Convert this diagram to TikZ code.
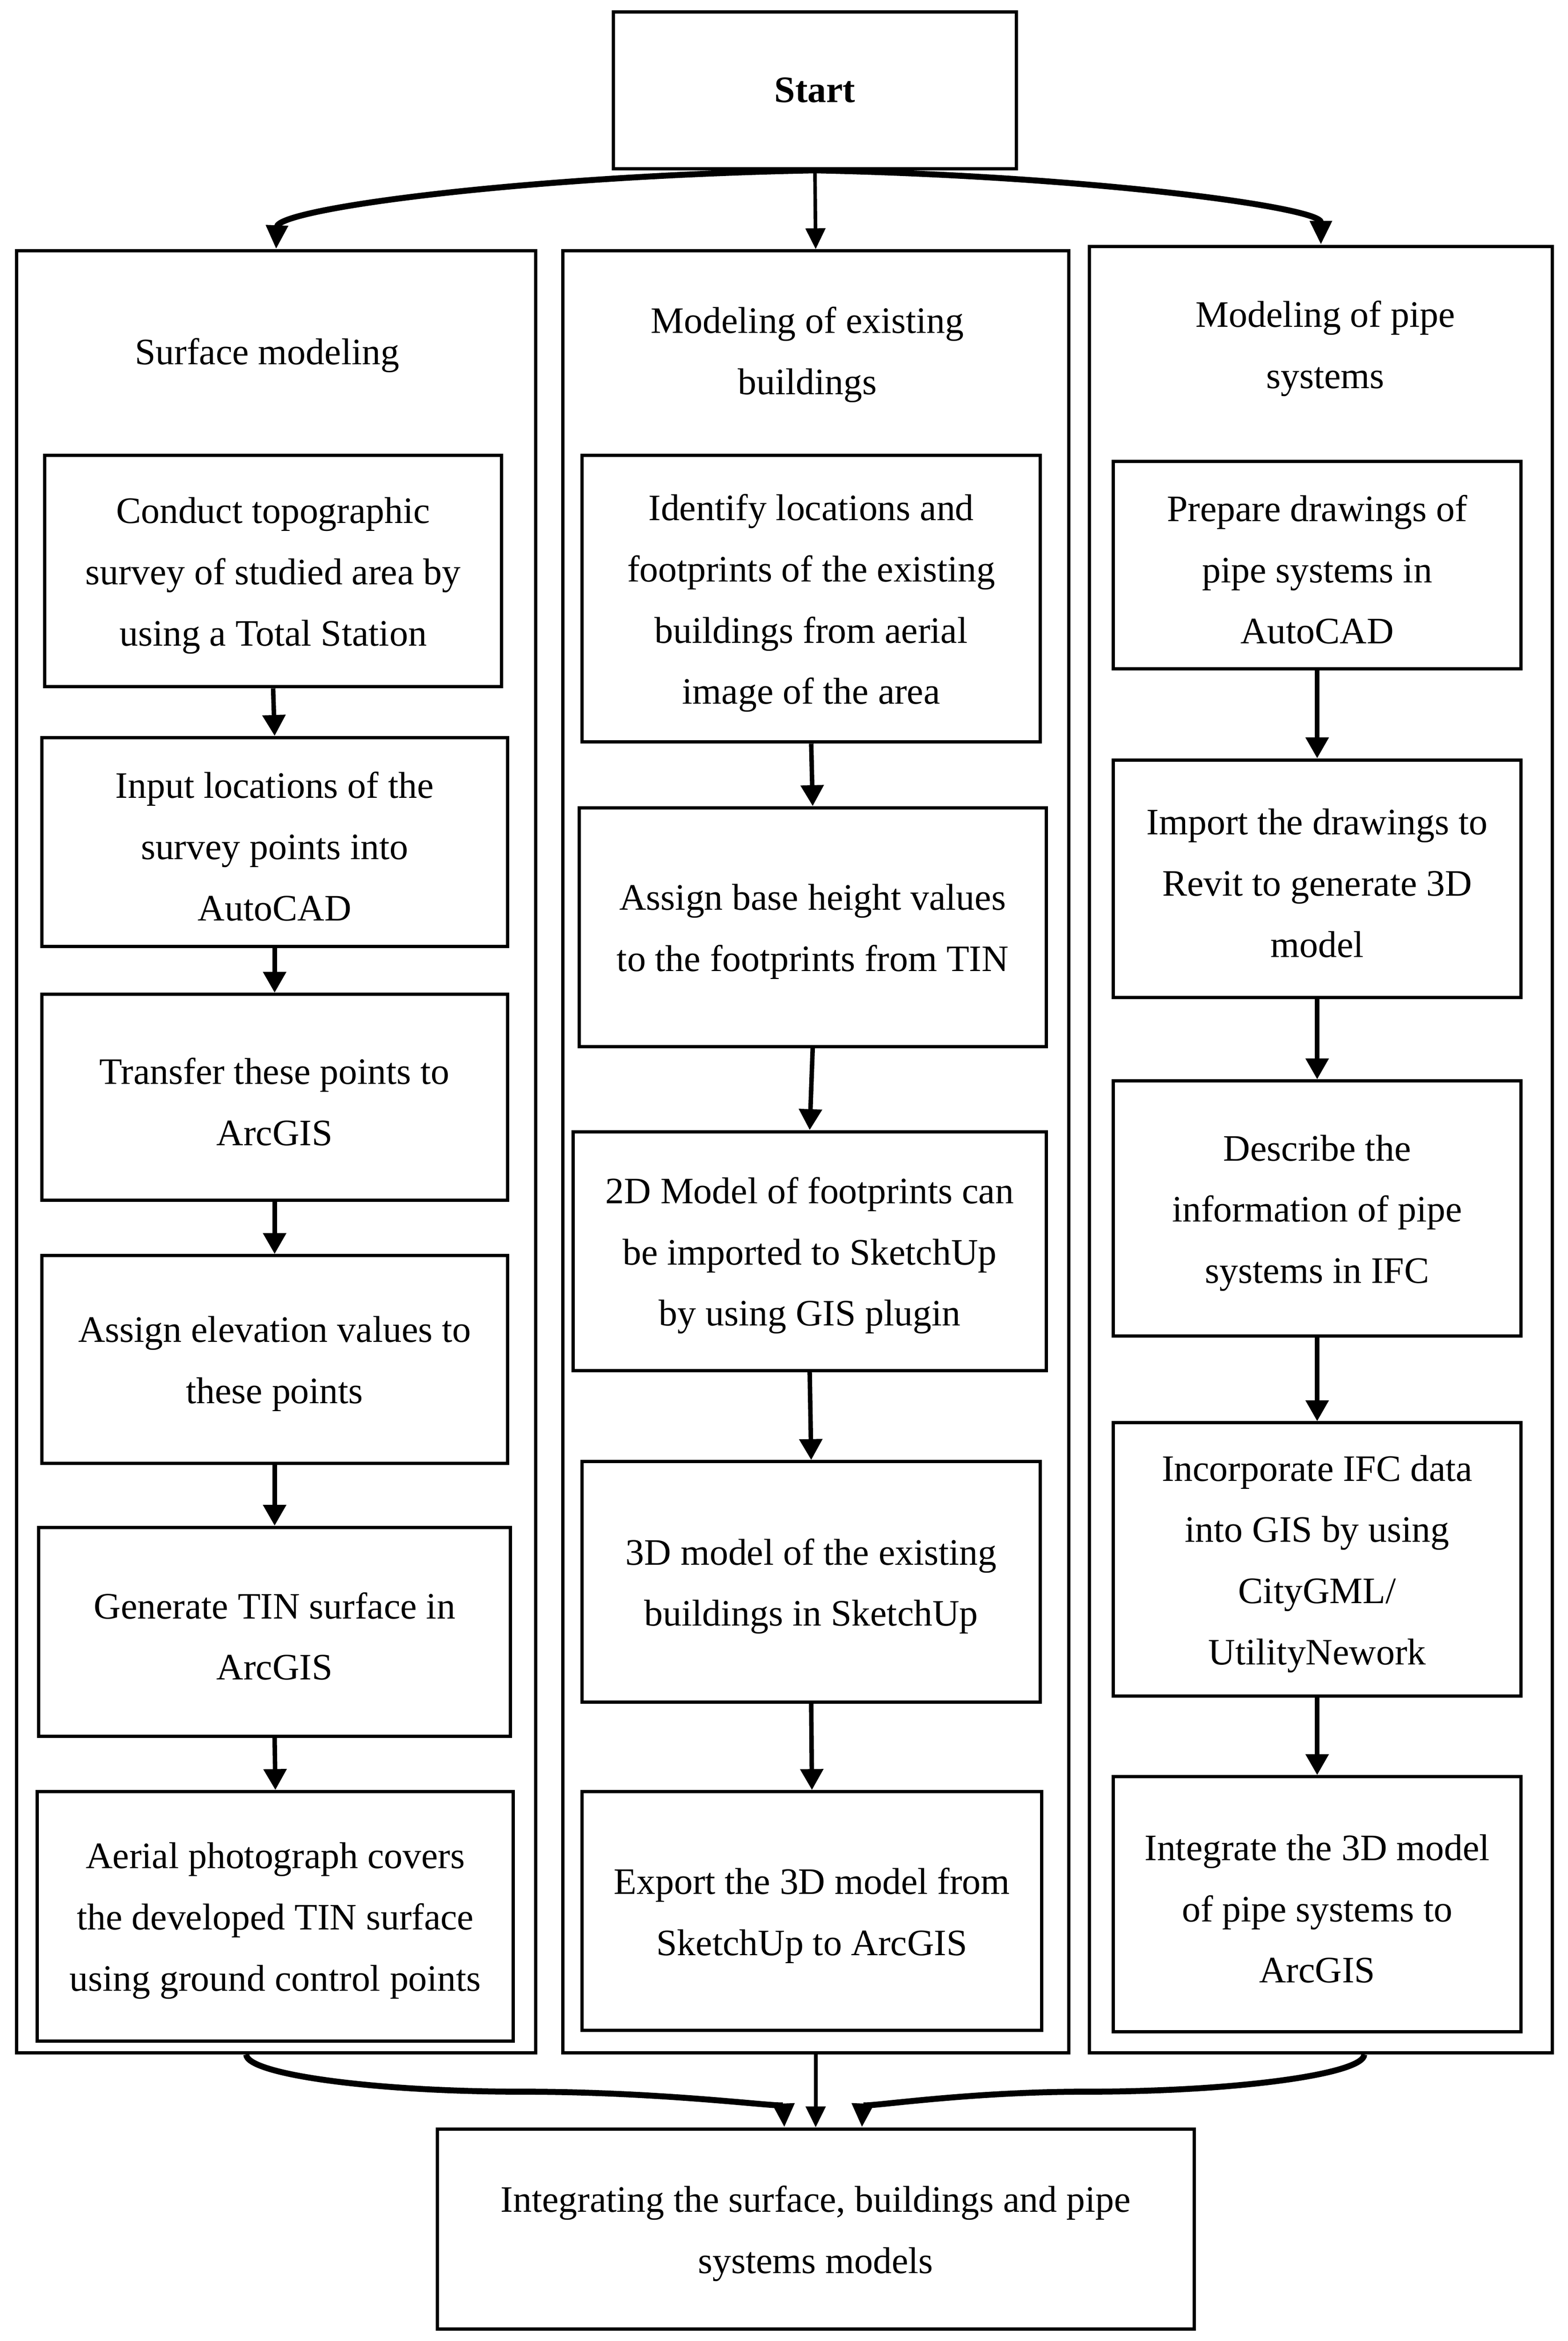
\documentclass[tikz,border=0pt]{standalone}
\usepackage{fontspec}
\setmainfont{Liberation Serif}
\usetikzlibrary{arrows.meta}
\newcommand\bx[6]{%
  \node[box, minimum width=#4pt, minimum height=#5pt] (#1) at (#2,#3) {};
  \node[txt] (#1t) at ([yshift=-3pt]#1.center) {#6};}
\begin{document}
\begin{tikzpicture}[x=1pt,y=-1pt,
  box/.style={draw, line width=2.2pt, inner sep=0pt},
  txt/.style={inner sep=0pt, align=center, font=\fontsize{25}{41}\selectfont},
  frame/.style={draw, line width=2.2pt, inner sep=0pt},
  colarrow/.style={line width=3pt, -{Triangle[length=14pt,width=15pt]}},
  midarrow/.style={line width=2.4pt, -{Triangle[length=14pt,width=13pt]}},
  curvearrow/.style={line width=4pt, -{Triangle[length=16pt,width=14pt]}}]
\useasboundingbox (0,0) rectangle (1050.4,1568);
% start
\node[box, minimum width=270pt, minimum height=105pt, font=\fontsize{25}{41}\selectfont\bfseries] (start) at (546,60.5) {Start};
% columns
\node[frame, minimum width=348pt, minimum height=1207pt] (c1) at (185,771.5) {};
\node[frame, minimum width=339pt, minimum height=1207pt] (c2) at (546.5,771.5) {};
\node[frame, minimum width=310pt, minimum height=1210pt] (c3) at (885,770) {};
\node[txt] (t1) at (179,238) {Surface modeling};
\node[txt] (t2) at (541,237.5) {Modeling of existing\\buildings};
\node[txt] (t3) at (888,233.5) {Modeling of pipe\\systems};
% column 1
\bx{a1}{183}{382.5}{306}{155}{Conduct topographic\\survey of studied area by\\using a Total Station}
\bx{a2}{184}{564}{312}{140}{Input locations of the\\survey points into\\AutoCAD}
\bx{a3}{184}{735}{312}{138}{Transfer these points to\\ArcGIS}
\bx{a4}{184}{910.5}{312}{139}{Assign elevation values to\\these points}
\bx{a5}{184}{1093}{316}{140}{Generate TIN surface in\\ArcGIS}
\bx{a6}{184.5}{1283.5}{319}{167}{Aerial photograph covers\\the developed TIN surface\\using ground control points}
% column 2
\bx{b1}{543.5}{401}{307}{192}{Identify locations and\\footprints of the existing\\buildings from aerial\\image of the area}
\bx{b2}{544.5}{621}{313}{160}{Assign base height values\\to the footprints from TIN}
\bx{b3}{542.5}{838}{317}{160}{2D Model of footprints can\\be imported to SketchUp\\by using GIS plugin}
\bx{b4}{543.5}{1059.5}{307}{161}{3D model of the existing\\buildings in SketchUp}
\bx{b5}{544}{1280}{308}{160}{Export the 3D model from\\SketchUp to ArcGIS}
% column 3
\bx{d1}{882.5}{378.5}{273}{139}{Prepare drawings of\\pipe systems in\\AutoCAD}
\bx{d2}{882.5}{588.5}{273}{159}{Import the drawings to\\Revit to generate 3D\\model}
\bx{d3}{882.5}{809.5}{273}{171}{Describe the\\information of pipe\\systems in IFC}
\bx{d4}{882.5}{1044.5}{273}{183}{Incorporate IFC data\\into GIS by using\\CityGML/\\UtilityNework}
\bx{d5}{882.5}{1275.5}{273}{171}{Integrate the 3D model\\of pipe systems to\\ArcGIS}
% final
\bx{fin}{546.5}{1493}{507}{134}{Integrating the surface, buildings and pipe\\systems models}
% column arrows
\foreach \p/\q in {a1/a2,a2/a3,a3/a4,a4/a5,a5/a6,b1/b2,b2/b3,b3/b4,b4/b5,d1/d2,d2/d3,d3/d4,d4/d5}
  \draw[colarrow] (\p.south) -- (\q.north);
% middle arrows
\draw[midarrow] (start.south) -- (c2.north);
\draw[midarrow] (c2.south) -- (fin.north);
% top curves
\draw[curvearrow] (start.south) .. controls (347,118) and (186,140) .. (c1.north);
\draw[curvearrow] (start.south) .. controls (733,118) and (885,139) .. (c3.north);
% bottom curves
\coordinate (bl) at ([xshift=-20pt]c1.south);
\coordinate (br) at ([xshift=29pt]c3.south);
\coordinate (ml) at (350,1401);
\coordinate (mr) at (727,1401);
\draw[curvearrow] (bl) .. controls (165,1389) and (248,1401) .. (ml) .. controls (447,1401) and (525,1412) .. ([xshift=-21pt]fin.north);
\draw[curvearrow] (br) .. controls (914,1389) and (830,1401) .. (mr) .. controls (645,1401) and (578,1412) .. ([xshift=31pt]fin.north);
\end{tikzpicture}
\end{document}
